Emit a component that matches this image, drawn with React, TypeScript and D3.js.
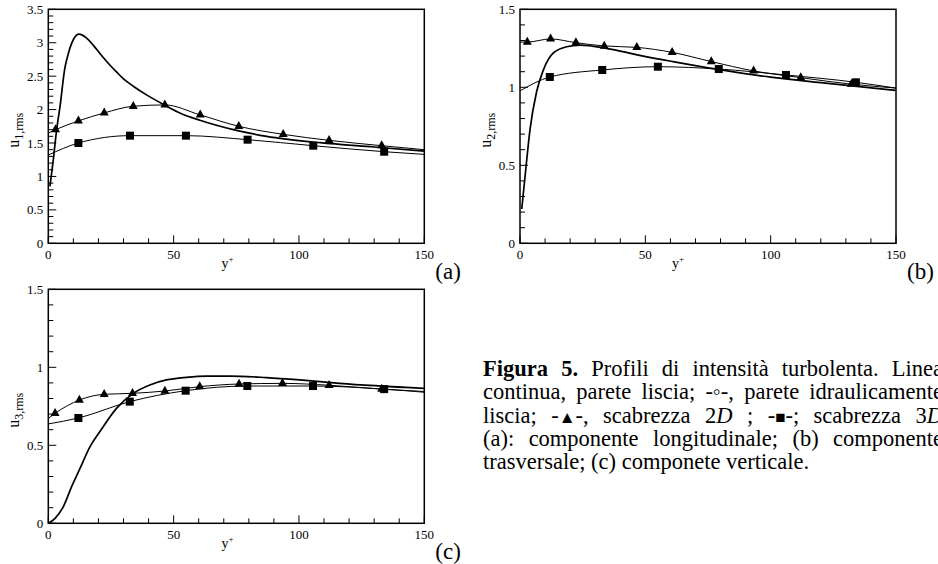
import React, { useLayoutEffect, useRef } from 'react';
import * as d3 from 'd3';

type P = [number, number];

// ---------- data ----------
// Panel (a): u1,rms
const smoothA: P[] = [[0.66,0.85],[2,1.25],[3.3,1.69],[4.65,2.04],[6.6,2.62],[8,2.84],[9.3,2.99],[12.2,3.13],[15.3,3.07],[18,2.96],[20.6,2.84],[24,2.69],[27.3,2.56],[30,2.46],[33.9,2.35],[39.2,2.22],[46.8,2.06],[52.5,1.95],[60.5,1.84],[73.8,1.7],[87.1,1.6],[108.4,1.505],[130,1.44],[150,1.38]];
const triA: P[] = [[0,1.65],[2.9,1.7],[12,1.83],[22.3,1.95],[33.9,2.05],[46.5,2.07],[60.6,1.92],[76,1.75],[93.7,1.63],[112,1.54],[133,1.46],[150,1.4]];
const sqA: P[] = [[0,1.32],[12,1.5],[32.6,1.61],[54.9,1.61],[79.5,1.55],[105.7,1.46],[134,1.37],[150,1.33]];

// Panel (b): u2,rms
const smoothB: P[] = [[0.7,0.22],[2.4,0.49],[4,0.73],[6.6,0.97],[9.3,1.11],[13.3,1.22],[18.6,1.26],[23.9,1.27],[34.5,1.25],[47.7,1.205],[61,1.165],[79,1.115],[100,1.065],[120,1.03],[150,0.98]];
const triB: P[] = [[0,1.29],[2.9,1.29],[12.2,1.31],[22.3,1.286],[33.6,1.265],[46.6,1.256],[60.7,1.224],[76.3,1.165],[93.2,1.105],[112,1.062],[132.2,1.02],[150,0.995]];
const sqB: P[] = [[0,0.977],[11.9,1.066],[32.8,1.111],[55,1.132],[79.3,1.117],[106.1,1.079],[134,1.032],[150,0.995]];

// Panel (c): u3,rms
const smoothC: P[] = [[0,0],[2.7,0.032],[6,0.107],[9.3,0.235],[12.6,0.35],[16.6,0.49],[20.6,0.588],[27.2,0.737],[33.9,0.833],[40.5,0.887],[47.1,0.919],[55.1,0.936],[63.1,0.944],[72.4,0.944],[87,0.934],[100.3,0.919],[116.2,0.897],[150,0.865]];
const triC: P[] = [[0,0.673],[2.7,0.705],[12.4,0.79],[22.3,0.827],[33.6,0.833],[46.5,0.848],[60.4,0.876],[76.1,0.893],[93.4,0.897],[112,0.885],[133,0.86],[150,0.845]];
const sqC: P[] = [[0,0.637],[12,0.675],[32.5,0.78],[54.8,0.85],[79.4,0.88],[105.6,0.88],[134,0.86],[150,0.84]];

const xMajor = [0, 50, 100, 150];
const yMaxes = [3.5, 1.5, 1.5];
const panelTags = ['(a)', '(b)', '(c)'];
const ySubs = ['1,rms', '2,rms', '3,rms'];
const xLabelAt = [71.5, 63, 71.5];

// ---------- layout ----------
const W = 938, H = 564;
const PW = 376, PH = 234;
const SERIF = "'Liberation Serif', 'Times New Roman', 'DejaVu Serif', serif";
const layout = [
  { left: 48.3, top: 9.3 },
  { left: 520, top: 9.3 },
  { left: 48.3, top: 289.3 },
];
const CAP_L = 483, CAP_R = 943, CAP_FS = 22.5;
const capBase = [376, 399.3, 422.6, 446, 469.3];

function triPath(cx: number, cy: number) {
  const w = 9, h = 8;
  return `M${cx},${cy - (2 * h) / 3}L${cx + w / 2},${cy + h / 3}L${cx - w / 2},${cy + h / 3}Z`;
}

function Panel({ i, smooth, tri, sq }: { i: number; smooth: P[]; tri: P[]; sq: P[] }) {
  const { left, top } = layout[i];
  const yMax = yMaxes[i];
  const x = d3.scaleLinear().domain([0, 150]).range([left, left + PW]);
  const y = d3.scaleLinear().domain([0, yMax]).range([top + PH, top]);
  const line = d3.line<P>().x(d => x(d[0])).y(d => y(d[1])).curve(d3.curveMonotoneX);
  const xMinor = d3.range(10, 150, 10).filter(v => v % 50 !== 0);
  const nY = Math.round(yMax / 0.1);
  const yAll = d3.range(0, nY + 1).map(k => +(k * 0.1).toFixed(1));
  const yMajor = yAll.filter((_, k) => k % 5 === 0);
  const yMinor = yAll.filter((_, k) => k % 5 !== 0);
  const bottom = top + PH;
  const cy = top + PH / 2 + 4;
  const labX = left - 29;
  return (
    <g>
      {xMajor.map(v => <line key={'xM' + v} x1={x(v)} x2={x(v)} y1={bottom} y2={bottom - 8} stroke="#000" strokeWidth={1} />)}
      {xMinor.map(v => <line key={'xm' + v} x1={x(v)} x2={x(v)} y1={bottom} y2={bottom - 5} stroke="#000" strokeWidth={1} />)}
      {yMajor.map(v => <line key={'yM' + v} x1={left} x2={left + 8} y1={y(v)} y2={y(v)} stroke="#000" strokeWidth={1} />)}
      {yMinor.map(v => <line key={'ym' + v} x1={left} x2={left + 5} y1={y(v)} y2={y(v)} stroke="#000" strokeWidth={1} />)}
      {xMajor.map(v => (
        <text key={'xl' + v} x={x(v)} y={bottom + 15.5} fontFamily={SERIF} fontSize={13} textAnchor="middle">{v}</text>
      ))}
      {yMajor.map(v => (
        <text key={'yl' + v} x={left - 5} y={y(v) + 4.5} fontFamily={SERIF} fontSize={13} textAnchor="end">{String(v)}</text>
      ))}
      <text x={x(xLabelAt[i])} y={bottom + 25} fontFamily={SERIF} fontSize={14} textAnchor="middle">
        y<tspan fontSize={9} dy={-6}>+</tspan>
      </text>
      <text transform={`translate(${labX},${cy}) rotate(-90)`} fontFamily={SERIF} fontSize={16} textAnchor="middle">
        u<tspan fontSize={12} dy={4}>{ySubs[i]}</tspan>
      </text>
      <path d={line(tri) || ''} fill="none" stroke="#000" strokeWidth={1} />
      <path d={line(sq) || ''} fill="none" stroke="#000" strokeWidth={1} />
      <path d={line(smooth) || ''} fill="none" stroke="#000" strokeWidth={1.7} />
      {tri.slice(1, -1).map((d, k) => <path key={'t' + k} d={triPath(x(d[0]), y(d[1]))} fill="#000" />)}
      {sq.slice(1, -1).map((d, k) => <rect key={'s' + k} x={x(d[0]) - 4} y={y(d[1]) - 4} width={8} height={8} fill="#000" />)}
      <rect x={left} y={top} width={PW} height={PH} fill="none" stroke="#000" strokeWidth={1.5} />
      <text x={left + PW + 11} y={bottom + 35.5} fontFamily={SERIF} fontSize={23}>{panelTags[i]}</text>
    </g>
  );
}

export default function App() {
  const capRef = useRef<SVGGElement>(null);
  useLayoutEffect(() => {
    const g = capRef.current;
    if (!g) return;
    g.querySelectorAll('text.just').forEach((t: any) => {
      t.setAttribute('word-spacing', '0');
      const w = t.getComputedTextLength();
      const n = ((t.textContent || '').match(/ /g) || []).length;
      if (n > 0) t.setAttribute('word-spacing', String((CAP_R - CAP_L - w) / n));
    });
  }, []);
  return (
    <svg width={W} height={H} viewBox={`0 0 ${W} ${H}`} style={{ position: 'absolute', left: 0, top: 0, background: '#fff' }}>
      <rect width={W} height={H} fill="#fff" />
      <Panel i={0} smooth={smoothA} tri={triA} sq={sqA} />
      <Panel i={1} smooth={smoothB} tri={triB} sq={sqB} />
      <Panel i={2} smooth={smoothC} tri={triC} sq={sqC} />
      <g ref={capRef} fontFamily={SERIF} fontSize={CAP_FS}>
        <text className="just" x={CAP_L} y={capBase[0]}>
          <tspan fontWeight="bold">Figura 5.</tspan>{' Profili di intensità turbolenta. Linea'}
        </text>
        <text className="just" x={CAP_L} y={capBase[1]}>{'continua, parete liscia; -◦-, parete idraulicamente'}</text>
        <text className="just" x={CAP_L} y={capBase[2]}>
          {'liscia; -'}<tspan fontSize={17}>▲</tspan>{'-, scabrezza 2'}<tspan fontStyle="italic">D</tspan>{' ; -'}<tspan fontSize={17}>■</tspan>{'-; scabrezza 3'}<tspan fontStyle="italic">D</tspan>
        </text>
        <text className="just" x={CAP_L} y={capBase[3]}>{'(a): componente longitudinale; (b) componente'}</text>
        <text x={CAP_L} y={capBase[4]}>{'trasversale; (c) componete verticale.'}</text>
      </g>
    </svg>
  );
}
